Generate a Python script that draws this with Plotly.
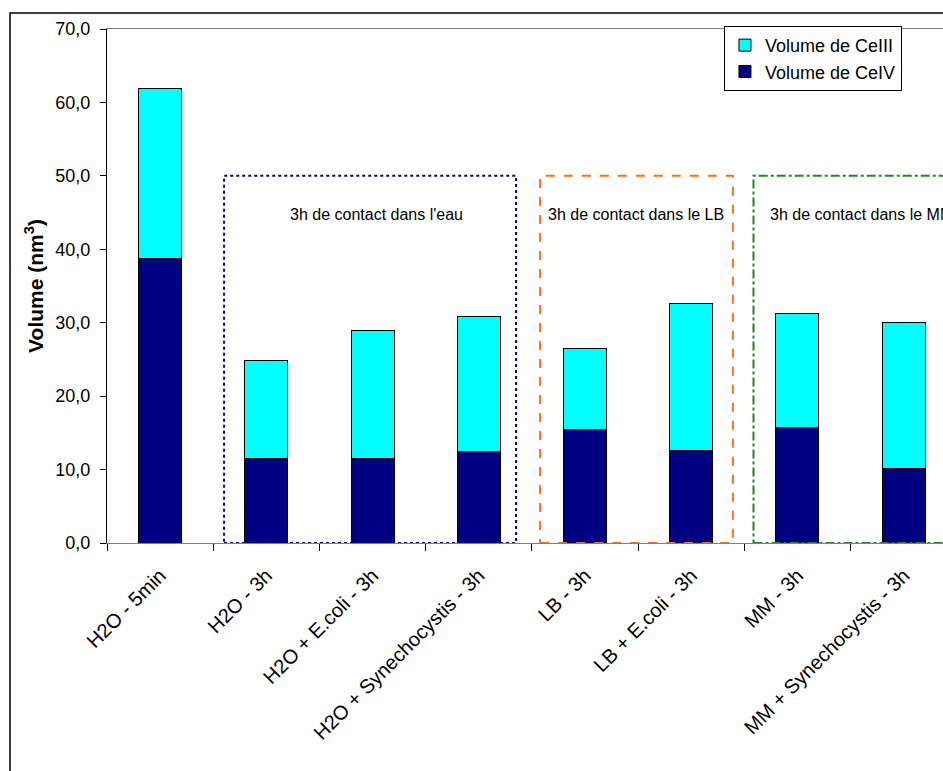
import plotly.graph_objects as go

# categories and values
categories = [
    "H2O - 5min",
    "H2O - 3h",
    "H2O + E.coli - 3h",
    "H2O + Synechocystis - 3h",
    "LB - 3h",
    "LB + E.coli - 3h",
    "MM - 3h",
    "MM + Synechocystis - 3h",
]
vol_ce4 = [38.7, 11.5, 11.5, 12.5, 15.5, 12.6, 15.7, 10.1]
vol_ce3 = [23.15, 13.3, 17.5, 18.4, 11.0, 20.0, 15.5, 19.9]

y_ticks = [0, 10, 20, 30, 40, 50, 60, 70]

FONT = "Liberation Sans, Arial, sans-serif"

fig = go.Figure()
fig.add_trace(go.Bar(
    x=categories, y=vol_ce4, name="Volume de CeIV",
    marker=dict(color="#000080", line=dict(color="#000000", width=1)),
    width=0.405,
))
fig.add_trace(go.Bar(
    x=categories, y=vol_ce3, name="Volume de CeIII",
    marker=dict(color="#00FFFF", line=dict(color="#000000", width=1)),
    width=0.405,
))

# group boxes (dotted / dashed / dash-dot)
boxes = [
    (0.602, 3.351, "#000099", "dot"),
    (3.577, 5.392, "#FF6E1A", "dash"),
    (5.586, 8.5, "#1F8A1F", "dashdot"),
]
for x0, x1, col, dash in boxes:
    fig.add_shape(type="rect", xref="x", yref="y", x0=x0, x1=x1, y0=0, y1=50,
                  line=dict(color=col, width=2, dash=dash), layer="above")

labels = [
    (2.04, "center", "3h de contact dans l'eau"),
    (4.48, "center", "3h de contact dans le LB"),
    (5.72, "left", "3h de contact dans le MM"),
]
for x, anchor, txt in labels:
    fig.add_annotation(x=x, y=44.7, xref="x", yref="y", text=txt, showarrow=False,
                       xanchor=anchor, yanchor="middle",
                       font=dict(family=FONT, size=16, color="#000000"))

# outer chart-area border
fig.add_shape(type="rect", xref="paper", yref="paper", x0=-0.116, x1=1.2,
              y0=-0.6, y1=1.031, line=dict(color="#000000", width=1.5))

fig.update_layout(
    width=943, height=771,
    margin=dict(l=107, r=0, t=29, b=228),
    barmode="stack",
    plot_bgcolor="white", paper_bgcolor="white",
    separators=",.",
    font=dict(family=FONT, size=18, color="#000000"),
    showlegend=True,
    legend=dict(
        x=0.738, y=1.006, xanchor="left", yanchor="top",
        bgcolor="white", bordercolor="#000000", borderwidth=1,
        traceorder="reversed", font=dict(size=18),
    ),
)
fig.update_xaxes(
    range=[-0.5, 7.37], tickangle=-45, tickson="boundaries",
    ticks="outside", ticklen=7, tickcolor="#000000",
    showline=True, linecolor="#808080", linewidth=1, mirror=True,
    showgrid=False, tickfont=dict(size=20), ticklabelstandoff=12,
)
fig.update_yaxes(
    range=[0, 70], tickvals=y_ticks, tickformat=".1f",
    ticks="outside", ticklen=6, tickcolor="#000000",
    showline=True, linecolor="#000000", linewidth=1,
    showgrid=False, zeroline=False, tickfont=dict(size=18),
    ticklabelstandoff=6,
    title=dict(text="<b>Volume (nm<sup>3</sup>)</b>", font=dict(size=21), standoff=6),
)

fig.write_html("out.html", config={"displayModeBar": False},
               post_script="document.body.style.margin='0';")
